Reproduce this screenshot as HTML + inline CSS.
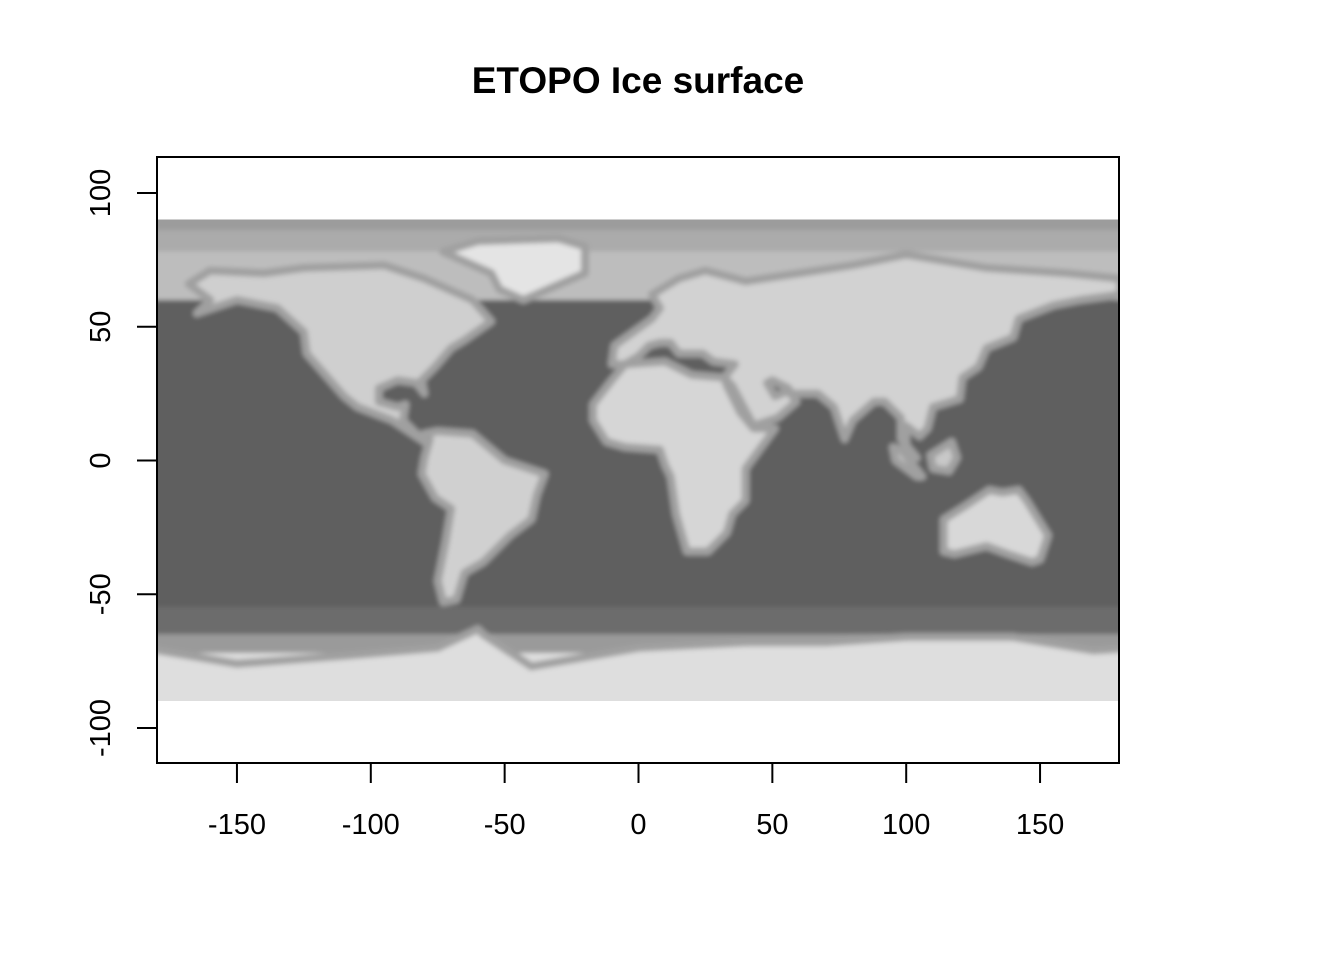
<!DOCTYPE html>
<html><head><meta charset="utf-8"><style>
html,body{margin:0;padding:0;background:#fff}
svg{display:block;font-family:"Liberation Sans",Arial,sans-serif}
</style></head><body>
<svg id="chart" width="1344" height="960" viewBox="0 0 1344 960">
<text x="638" y="93" text-anchor="middle" font-size="37" font-weight="bold">ETOPO Ice surface</text>
<defs>
<clipPath id="pc"><rect x="157" y="219.5" width="962" height="481.5"/></clipPath>
<filter id="soft" x="-5%" y="-5%" width="110%" height="110%"><feGaussianBlur stdDeviation="2.5"/></filter>
</defs>
<g clip-path="url(#pc)"><g id="map" filter="url(#soft)"></g></g>
<rect x="157" y="157" width="962" height="606" fill="none" stroke="#000" stroke-width="2"/>
<g id="axes"></g>
</svg>
<script>
const xTicks=[-150,-100,-50,0,50,100,150];
const yTicks=[-100,-50,0,50,100];
const oceanBands=[ // [latTop, latBottom, gray]
 [92,86,"#9c9c9c"],[86,78,"#ababab"],[78,60,"#bdbdbd"],[60,-55,"#5e5e5e"],[-55,-65,"#6c6c6c"],[-65,-72,"#9a9a9a"],[-72,-92,"#dedede"]];
const northAmerica=[[-168,66],[-160,71],[-140,70],[-125,72],[-95,73],[-80,68],[-62,60],[-55,52],[-65,45],[-70,42],[-76,35],[-81,30],[-80,25],[-83,29],[-90,30],[-97,27],[-97,22],[-90,20],[-87,21],[-88,15],[-83,10],[-78,8],[-80,7],[-86,11],[-92,15],[-105,20],[-110,24],[-117,32],[-124,40],[-125,48],[-135,57],[-150,60],[-165,55],[-160,60]];
const southAmerica=[[-80,10],[-75,11],[-62,10],[-50,0],[-35,-5],[-38,-13],[-40,-22],[-48,-28],[-58,-38],[-65,-42],[-68,-52],[-73,-53],[-75,-45],[-72,-30],[-70,-18],[-76,-14],[-81,-5],[-80,1],[-78,8]];
const africa=[[-17,21],[-17,15],[-12,7],[-5,5],[8,4],[10,-2],[12,-6],[14,-20],[18,-34],[26,-34],[33,-27],[35,-20],[40,-15],[40,-3],[51,12],[43,12],[38,18],[33,28],[32,31],[20,32],[10,37],[-5,36],[-10,30]];
const eurasia=[[-10,36],[-9,43],[-2,48],[5,53],[8,57],[5,62],[15,68],[25,71],[40,67],[60,70],[80,73],[100,77],[130,72],[160,70],[180,68],[180,62],[165,60],[155,58],[142,53],[140,46],[130,42],[127,35],[121,31],[120,23],[110,20],[108,12],[105,9],[100,13],[100,3],[104,1],[98,8],[98,16],[92,22],[88,22],[80,15],[77,8],[73,20],[67,25],[57,25],[56,27],[50,30],[48,29],[51,24],[56,26],[59,22],[52,16],[43,13],[35,28],[32,31],[36,36],[28,37],[24,40],[15,40],[12,44],[8,44],[4,43],[0,39],[-5,36]];
const australia=[[114,-22],[114,-34],[118,-35],[130,-32],[138,-35],[147,-38],[150,-37],[153,-28],[145,-15],[142,-11],[136,-12],[131,-11],[122,-17]];
const greenland=[[-73,78],[-60,82],[-30,83],[-20,80],[-20,70],[-43,60],[-52,64],[-55,70]];
const borneo=[[109,2],[117,7],[119,1],[116,-4],[110,-3]];
const sumatra=[[95,5],[98,4],[106,-6],[104,-6],[96,0]];
const antarctica=[[-185,-70],[-150,-76],[-110,-73],[-75,-70],[-60,-63],[-58,-65],[-40,-77],[0,-70],[40,-68],[70,-68],[100,-66],[140,-66],[170,-71],[185,-70],[185,-95],[-185,-95]];
const x=v=>638.5+v*2.677;
const y=v=>460.5-v*2.675;
const NS="http://www.w3.org/2000/svg";
const map=document.getElementById('map'),axes=document.getElementById('axes');
function mk(t,a,p){const e=document.createElementNS(NS,t);for(const k in a)e.setAttribute(k,a[k]);p.appendChild(e);return e;}
oceanBands.forEach(b=>{
 const r=mk('rect',{x:x(-185),y:y(b[0]),width:x(185)-x(-185),height:y(b[1])-y(b[0]),fill:b[2]},map);
 
 
});
const lands=[["north-america",northAmerica,"#cfcfcf"],["south-america",southAmerica,"#d0d0d0"],["africa",africa,"#d6d6d6"],["eurasia",eurasia,"#d2d2d2"],["australia",australia,"#d8d8d8"],["greenland",greenland,"#e4e4e4"],["borneo",borneo,"#c8c8c8"],["sumatra",sumatra,"#c8c8c8"],["antarctica",antarctica,"#dedede"]];
lands.forEach(l=>{
 const p=mk('polygon',{points:l[1].map(q=>x(q[0])+','+y(q[1])).join(' '),fill:l[2],stroke:"#a0a0a0","stroke-width":8,"stroke-linejoin":"round"},map);
 
 
});
xTicks.forEach(v=>{
 mk('line',{x1:x(v),x2:x(v),y1:763,y2:783,stroke:"#000","stroke-width":2},axes);
 const t=mk('text',{x:x(v),y:834,"text-anchor":"middle","font-size":29},axes);t.textContent=v;
 
 
});
yTicks.forEach(v=>{
 mk('line',{x1:137,x2:157,y1:y(v),y2:y(v),stroke:"#000","stroke-width":2},axes);
 const t=mk('text',{x:0,y:0,"text-anchor":"middle","font-size":29,transform:`translate(110,${y(v)}) rotate(-90)`},axes);t.textContent=v;
 
 
});
</script>
</body></html>
